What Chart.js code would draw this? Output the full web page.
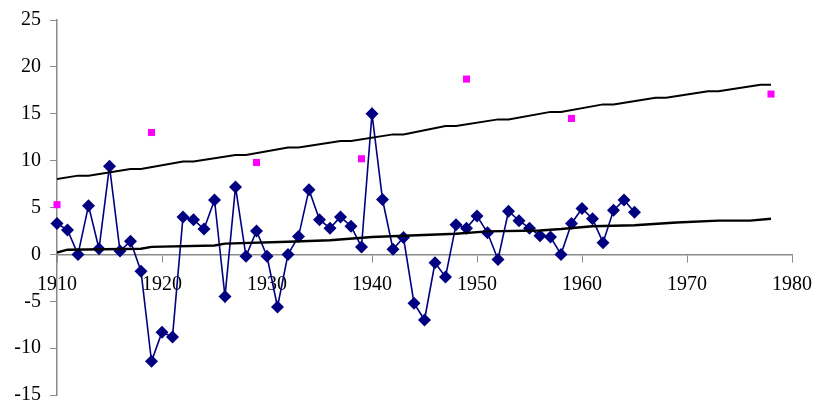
<!DOCTYPE html>
<html>
<head>
<meta charset="utf-8">
<script src="https://cdn.jsdelivr.net/npm/chart.js@4"></script>
<style>
  html, body { margin: 0; padding: 0; background: #fff; }
  canvas { display: block; }
</style>
</head>
<body>
<canvas id="chart" width="814" height="403"></canvas>
<script>
// yearly series (diamonds), 1910-1965
const years = [1910,1911,1912,1913,1914,1915,1916,1917,1918,1919,
               1920,1921,1922,1923,1924,1925,1926,1927,1928,1929,
               1930,1931,1932,1933,1934,1935,1936,1937,1938,1939,
               1940,1941,1942,1943,1944,1945,1946,1947,1948,1949,
               1950,1951,1952,1953,1954,1955,1956,1957,1958,1959,
               1960,1961,1962,1963,1964,1965];
const values = [3.3,2.6,0.0,5.2,0.6,9.4,0.35,1.4,-1.8,-11.4,
                -8.3,-8.8,4.0,3.7,2.7,5.8,-4.5,7.2,-0.2,2.5,
                -0.2,-5.6,0.0,1.9,6.9,3.7,2.8,4.0,3.0,0.8,
                15.0,5.85,0.55,1.8,-5.2,-7.0,-0.9,-2.4,3.15,2.8,
                4.1,2.3,-0.55,4.6,3.6,2.8,2.0,1.85,0.0,3.3,
                4.9,3.8,1.25,4.7,5.8,4.5];

// magenta squares
const squareYears = [1910,1919,1929,1939,1949,1959,1978];
const squareValues = [5.3,13.0,9.8,10.2,18.7,14.5,17.1];

// upper black line (vertices)
const upperYears = [1910,1912,1913,1917,1918,1922,1923,1927,1928,1932,1933,1937,1938,
                    1942,1943,1947,1948,1952,1953,1957,1958,1962,1963,1967,1968,1972,1973,1977,1978];
const upperValues = [8.05,8.4,8.4,9.1,9.1,9.9,9.9,10.6,10.6,11.4,11.4,12.1,12.1,
                     12.8,12.8,13.7,13.7,14.4,14.4,15.2,15.2,16.0,16.0,16.7,16.7,17.4,17.4,18.1,18.1];

// lower black line (vertices)
const lowerYears = [1910,1911,1918,1919,1925,1926,1932,1936,1940,1948,1951,1956,1958,1961,1965,1969,1973,1976,1978];
const lowerValues = [0.2,0.5,0.6,0.8,0.95,1.15,1.35,1.5,1.85,2.2,2.45,2.55,2.7,3.0,3.1,3.4,3.6,3.6,3.8];

const xTicks = [1910,1920,1930,1940,1950,1960,1970,1980];
const yTicks = [-15,-10,-5,0,5,10,15,20,25];

function pts(xs, ys) {
    return xs.map((x, i) => ({ x: x, y: ys[i] }));
}

const axisColor = '#8a8a8a';
const font = { family: '"Liberation Serif", "Times New Roman", serif', size: 20 };

new Chart(document.getElementById('chart'), {
    type: 'line',
    data: {
        datasets: [
            {
                data: pts(years, values),
                borderColor: '#000080',
                backgroundColor: '#000080',
                borderWidth: 1.6,
                pointStyle: 'rectRot',
                pointRadius: 6.5,
                pointBorderWidth: 0,
                tension: 0,
                clip: false,
                order: 2
            },
            {
                data: pts(upperYears, upperValues),
                borderColor: '#000',
                borderWidth: 2,
                pointRadius: 0,
                tension: 0,
                order: 1
            },
            {
                data: pts(lowerYears, lowerValues),
                borderColor: '#000',
                borderWidth: 2.4,
                pointRadius: 0,
                tension: 0,
                order: 1
            },
            {
                data: pts(squareYears, squareValues),
                showLine: false,
                backgroundColor: '#ff00ff',
                borderColor: '#ff00ff',
                pointStyle: 'rect',
                pointRadius: 5,
                pointBorderWidth: 0,
                clip: false,
                order: 0
            }
        ]
    },
    options: {
        responsive: false,
        animation: false,
        layout: { padding: { top: 20, right: 22, bottom: 8, left: 0 } },
        plugins: { legend: { display: false }, tooltip: { enabled: false } },
        scales: {
            x: {
                type: 'linear',
                position: { y: 0 },
                min: 1910,
                max: 1980,
                afterBuildTicks: s => { s.ticks = xTicks.map(v => ({ value: v })); },
                afterFit: s => { s.paddingLeft = 0; s.paddingRight = 0; },
                ticks: { color: '#000', font: font, padding: 11, maxRotation: 0,
                         callback: v => String(v) },
                grid: { drawOnChartArea: false, tickLength: 7, color: axisColor },
                border: { color: axisColor, width: 1.5 }
            },
            y: {
                min: -15,
                max: 25,
                afterBuildTicks: s => { s.ticks = yTicks.map(v => ({ value: v })); },
                afterFit: s => { s.width = 57; s.paddingTop = 0; s.paddingBottom = 0; },
                ticks: { color: '#000', font: font, padding: 9 },
                grid: { drawOnChartArea: false, tickLength: 7, color: axisColor },
                border: { color: axisColor, width: 1.5 }
            }
        }
    }
});
</script>
</body>
</html>
